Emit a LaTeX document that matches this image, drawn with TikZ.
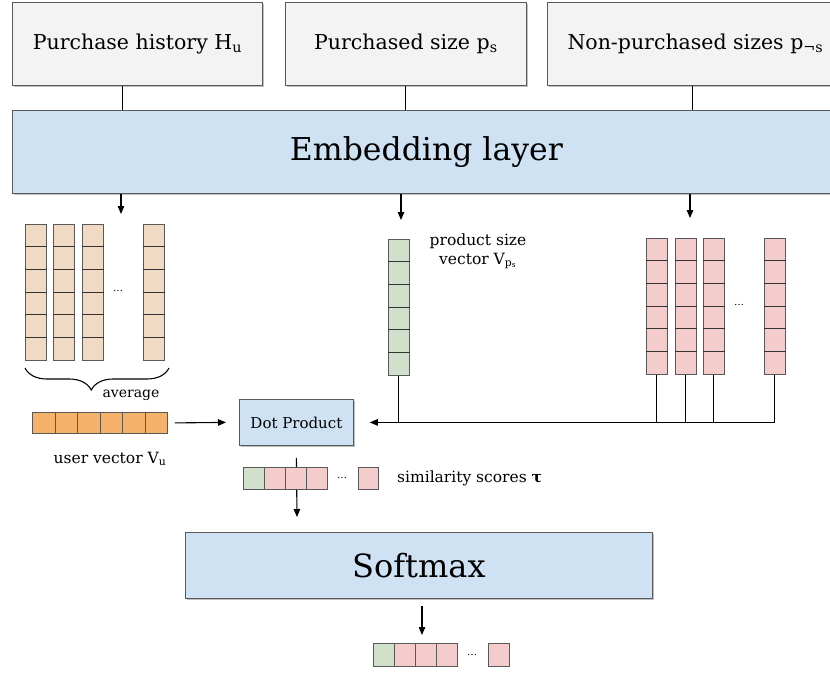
\documentclass[tikz,border=0pt]{standalone}
\usepackage{fontspec}
\setmainfont{DejaVu Serif}
\usetikzlibrary{arrows.meta,shadows,decorations.pathreplacing}
\definecolor{boxgray}{HTML}{F3F3F3}
\definecolor{boxblue}{HTML}{CFE2F3}
\definecolor{beige}{HTML}{F1DAC3}
\definecolor{orangec}{HTML}{F6B26B}
\definecolor{greenc}{HTML}{D0E0CA}
\definecolor{pinkc}{HTML}{F4CCCC}
\definecolor{edgec}{HTML}{595959}
\newcommand{\cellh}{22.7pt}
\newcommand{\vcolumn}[4]{%
  \node[cellcol, fill=#4, anchor=north west] (#1) at (#2,#3) {};
  \foreach \k in {1,...,5}
    \draw[cellline] ([yshift=-\k*\cellh]#1.north west) -- ([yshift=-\k*\cellh]#1.north east);
}
\begin{document}
\begin{tikzpicture}[x=1pt,y=-1pt,
  shade/.style={drop shadow={shadow xshift=1.5pt,shadow yshift=-1.5pt,fill=black,opacity=0.25}},
  topbox/.style={draw=edgec, line width=0.8pt, fill=boxgray, shade, anchor=north west, minimum height=83pt, inner sep=0pt, font=\fontsize{20.5}{24}\selectfont},
  bluebox/.style={draw=edgec, line width=0.8pt, fill=boxblue, shade, anchor=north west, inner sep=0pt},
  cellcol/.style={draw=edgec, line width=0.8pt, minimum width=21pt, minimum height=136.2pt, inner sep=0pt},
  cellline/.style={draw=black!80, line width=0.7pt},
  hcell/.style={draw=edgec, line width=0.8pt, anchor=north west, inner sep=0pt},
  conn/.style={line width=1.1pt, black},
  arr/.style={conn, -{Triangle[length=8pt,width=6.5pt]}},
  small/.style={font=\fontsize{15.5}{19}\selectfont},
  dots/.style={font=\fontsize{10}{12}\selectfont, inner sep=0pt}
]
\useasboundingbox (0,0) rectangle (830,673);

% top input boxes
\node[topbox, minimum width=250pt] (b1) at (12,2) {Purchase history H\textsubscript{u}};
\node[topbox, minimum width=241pt] (b2) at (285,2) {Purchased size p\textsubscript{s}};
\node[topbox, minimum width=296pt] (b3) at (547,2) {Non-purchased sizes p\textsubscript{¬s}};

% embedding layer
\node[bluebox, minimum width=828pt, minimum height=83pt, font=\fontsize{31.5}{38}\selectfont] (emb) at (12,110) {Embedding layer};

\draw[conn] ([xshift=-15pt]b1.south) -- ([xshift=-15pt]b1.south |- emb.north);
\draw[conn] (b2.south) -- (b2.south |- emb.north);
\draw[conn] ([xshift=-3pt]b3.south) -- ([xshift=-3pt]b3.south |- emb.north);

% purchase history columns
\vcolumn{h1}{25}{224}{beige}
\vcolumn{h2}{53}{224}{beige}
\vcolumn{h3}{82}{224}{beige}
\vcolumn{h4}{143}{224}{beige}
\node[dots] (hdots) at (118,291) {\dots};

% product size column
\vcolumn{g1}{388}{239}{greenc}

% non-purchased columns
\vcolumn{p1}{646}{238}{pinkc}
\vcolumn{p2}{675}{238}{pinkc}
\vcolumn{p3}{703}{238}{pinkc}
\vcolumn{p4}{764}{238}{pinkc}
\node[dots] (pdots) at (739,305) {\dots};

% arrows from embedding
\coordinate (eh) at (121,214);
\coordinate (eg) at (401,220);
\coordinate (ep) at (690,218);
\draw[arr] (emb.south -| eh) -- (eh);
\draw[arr] (emb.south -| eg) -- (eg);
\draw[arr] (emb.south -| ep) -- (ep);

% brace and average
\draw[decorate, decoration={brace, mirror, amplitude=22pt, aspect=0.46}, line width=1.1pt] (25,368) -- (169,368);
\node[font=\fontsize{14}{17}\selectfont, inner sep=0pt] (avg) at (131,395) {average};

% user vector
\foreach \i in {0,...,5}
  \node[hcell, fill=orangec, minimum width=22.5pt, minimum height=21pt] (u\i) at (32+\i*22.5,412) {};
\node[small, inner sep=0pt] (ulab) at (110,459) {user vector V\textsubscript{u}};

% dot product
\node[bluebox, minimum width=114pt, minimum height=46pt, font=\fontsize{15}{18}\selectfont] (dot) at (239,399) {Dot Product};
\draw[arr] ([xshift=7pt]u5.east) -- ([xshift=-13pt]dot.west);

% right joining line
\coordinate (join) at (p4.south |- dot.east);
\draw[arr] (p4.south) -- (join) -- ([xshift=16pt]dot.east);
\draw[conn] (p1.south) -- (p1.south |- join);
\draw[conn] (p2.south) -- (p2.south |- join);
\draw[conn] (p3.south) -- (p3.south |- join);
\draw[conn] (g1.south) -- (g1.south |- join);

% product size label
\node[small, align=center, inner sep=0pt] (glab) at (478,251) {product size\\vector V\textsubscript{p\textsubscript{s}}};

% softmax
\node[bluebox, minimum width=467pt, minimum height=66pt, font=\fontsize{32}{38}\selectfont] (soft) at (185,532) {Softmax};
\coordinate (dotout) at (297,517);
\draw[arr] ([yshift=-12pt]dot.south) -- (dotout);

% similarity scores vector
\node[hcell, fill=greenc, minimum width=21pt, minimum height=22pt] (s0) at (243,467) {};
\foreach \i in {1,2,3}
  \node[hcell, fill=pinkc, minimum width=21pt, minimum height=22pt] (s\i) at (243+\i*21,467) {};
\node[dots] (sdots) at (342,478) {\dots};
\node[hcell, fill=pinkc, minimum width=20pt, minimum height=22pt] (s4) at (358,467) {};
\node[small, anchor=west, inner sep=0pt] (slab) at (397,478) {similarity scores \textbf{τ}};

% output
\coordinate (softout) at (422,635);
\draw[arr] (soft.south -| softout) ++(0,-7pt) -- (softout);
\node[hcell, fill=greenc, minimum width=21pt, minimum height=23pt] (o0) at (373,643) {};
\foreach \i in {1,2,3}
  \node[hcell, fill=pinkc, minimum width=21pt, minimum height=23pt] (o\i) at (373+\i*21,643) {};
\node[dots] (odots) at (472,655) {\dots};
\node[hcell, fill=pinkc, minimum width=21pt, minimum height=23pt] (o4) at (488,643) {};
\end{tikzpicture}
\end{document}
